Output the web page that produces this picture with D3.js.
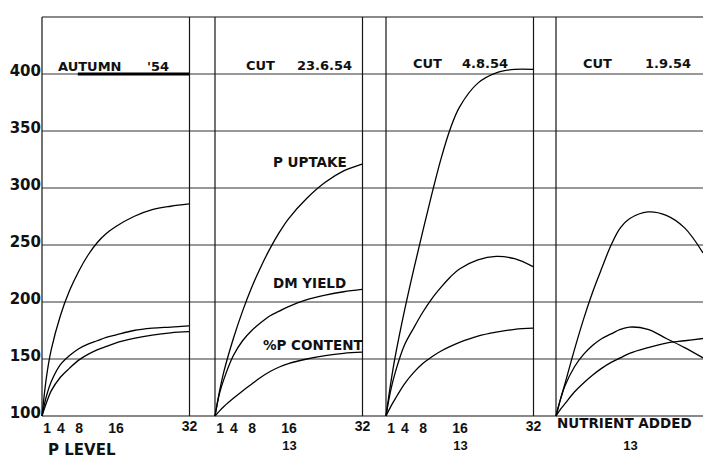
<!DOCTYPE html>
<html><head><meta charset="utf-8">
<script src="https://cdn.jsdelivr.net/npm/d3@7"></script>
<style>
body{margin:0;background:#fff}
svg text{font-family:"DejaVu Sans",sans-serif;font-weight:bold;fill:#111}
</style>
</head><body><svg id="c" width="703" height="458"></svg>
<script>
// ---------- data ----------
const titleWords = ["AUTUMN", "CUT", "CUT", "CUT"];
const titleDates = ["'54", "23.6.54", "4.8.54", "1.9.54"];
const pLevels = [0, 1, 2, 4, 6, 8, 10, 12, 14, 16, 20, 24, 28, 32];

const uptakeAutumn = [100, 135, 158, 188, 210, 227, 241, 252, 260, 266, 275, 281, 284, 286];
const yieldAutumn  = [100, 118, 130, 145, 153, 159, 163, 166, 169, 171, 175, 177, 178, 179];
const contentAutumn= [100, 112, 122, 134, 142, 149, 154, 158, 161, 164, 168, 171, 173, 174];

const uptakeJune   = [100, 122, 140, 168, 192, 213, 231, 247, 261, 273, 291, 305, 315, 321];
const yieldJune    = [100, 120, 133, 153, 166, 175, 182, 188, 192, 196, 202, 206, 209, 211];
const contentJune  = [100, 104.5, 108.5, 115.5, 122, 128, 134, 139, 143, 146, 150, 153, 155, 156];

const uptakeAug    = [100, 128, 152, 192, 228, 262, 295, 326, 352, 371, 392, 401, 404, 404];
const yieldAug     = [100, 122, 138, 162, 177, 191, 203, 213, 222, 229, 237, 240, 238, 231];
const contentAug   = [100, 108, 115, 128, 138, 146, 152, 157, 161, 164.5, 170, 173.5, 176, 177];

const uptakeSep    = [100, 115, 129, 158, 185, 209, 230, 250, 265, 273, 279, 276, 265, 243];
const yieldSep     = [100, 115, 127, 143, 154, 162, 168, 172, 176, 178, 176, 168, 160, 151];
const contentSep   = [100, 106, 111, 121, 129, 136, 142, 147, 151, 155, 160, 164, 166, 168];

const yTicks = [100, 150, 200, 250, 300, 350, 400];
const xTicks = [1, 4, 8, 16, 32];
const xTitles = ["P LEVEL", "13", "13", "13"];
const lastPanelAxisText = "NUTRIENT ADDED";
const seriesLabels = ["P UPTAKE", "DM YIELD", "%P CONTENT"];

const panelSeries = [
  [uptakeAutumn, yieldAutumn, contentAutumn],
  [uptakeJune, yieldJune, contentJune],
  [uptakeAug, yieldAug, contentAug],
  [uptakeSep, yieldSep, contentSep]
];

// ---------- layout ----------
const svg = d3.select("#c");
const panelLeft = [42, 215, 386, 556];
const panelW = 147;
const y = d3.scaleLinear().domain([100, 450]).range([416, 17]);
const xs = panelLeft.map(l => d3.scaleLinear().domain([0, 32]).range([l, l + panelW]));
const ink = "#151515";

// horizontal grid lines
svg.append("g").selectAll("line").data(yTicks.filter(d => d > 100)).join("line")
  .attr("x1", 42).attr("x2", 703)
  .attr("y1", d => y(d)).attr("y2", d => y(d))
  .attr("stroke", "#333").attr("stroke-width", 1);
// baseline & top border
svg.append("line").attr("x1", 42).attr("x2", 703).attr("y1", y(100)).attr("y2", y(100))
  .attr("stroke", ink).attr("stroke-width", 1.2);
svg.append("line").attr("x1", 42).attr("x2", 703).attr("y1", y(450)).attr("y2", y(450))
  .attr("stroke", ink).attr("stroke-width", 1.2);

// vertical panel borders
const vlines = [];
xs.forEach((x, i) => { vlines.push(x(0)); if (i < 3) vlines.push(x(32) + 0.5); });
svg.append("g").selectAll("line").data(vlines).join("line")
  .attr("x1", d => d).attr("x2", d => d)
  .attr("y1", y(450)).attr("y2", y(100))
  .attr("stroke", ink).attr("stroke-width", 1.2);

// y axis labels
const yAxis = d3.axisLeft(y).tickValues(yTicks).tickSize(0).tickPadding(1).tickFormat(d3.format("d"));
const ga = svg.append("g").attr("transform", "translate(42,0)").call(yAxis);
ga.select(".domain").remove();
ga.selectAll("text").style("font-size", "15px").attr("dy", "0.1em").attr("fill", "#111");

// x axes
xs.forEach((x, i) => {
  if (i < 3) {
    const ax = d3.axisBottom(x).tickValues(xTicks).tickSize(0).tickPadding(0).tickFormat(d3.format("d"));
    const g = svg.append("g").attr("transform", `translate(0,${y(100)})`).call(ax);
    g.select(".domain").remove();
    g.selectAll("text")
      .style("font-family", "'Liberation Sans',sans-serif").style("font-size", "14px")
      .attr("fill", "#111").attr("y", 0).attr("dy", d => d === 32 ? 15 : 17);
  } else {
    svg.append("text").attr("x", x(0) + 1).attr("y", 428)
      .style("font-size", "13.5px").text(lastPanelAxisText);
  }
  const xt = svg.append("text").attr("y", i === 0 ? 455 : 450).style("font-size", i === 0 ? "15px" : "13px");
  if (i === 0) xt.attr("x", x(0) + 6).text(xTitles[i]);
  else xt.attr("x", x(16) + 1).attr("text-anchor", "middle")
    .style("font-family", "'Liberation Sans',sans-serif").text(xTitles[i]);
});

// titles
const titleOff = [[16, 105], [31, 82], [27, 76], [27, 89]];
const titleY = [71, 70, 68, 68];
panelLeft.forEach((l, i) => {
  svg.append("text").attr("x", l + titleOff[i][0]).attr("y", titleY[i]).style("font-size", "13px").text(titleWords[i]);
  svg.append("text").attr("x", l + titleOff[i][1]).attr("y", titleY[i]).style("font-size", "13px").text(titleDates[i]);
});
// thick underline bar under AUTUMN '54
svg.append("line").attr("x1", xs[0](7.8)).attr("x2", xs[0](32)).attr("y1", y(400)).attr("y2", y(400))
  .attr("stroke", "#000").attr("stroke-width", 3.2);

// curves
const line = d3.line().curve(d3.curveCatmullRom.alpha(0.5));
panelSeries.forEach((series, i) => {
  const x = xs[i];
  series.forEach(vals => {
    svg.append("path")
      .attr("d", line(pLevels.map((p, k) => [x(p), y(vals[k])])))
      .attr("fill", "none").attr("stroke", "#000").attr("stroke-width", 1.3);
  });
});

// series labels (panel 2)
const labelPos = [[273, 167], [273, 288], [263, 350]];
seriesLabels.forEach((t, k) => {
  svg.append("text").attr("x", labelPos[k][0]).attr("y", labelPos[k][1]).style("font-size", "13.5px").text(t);
});
</script>
</body></html>
